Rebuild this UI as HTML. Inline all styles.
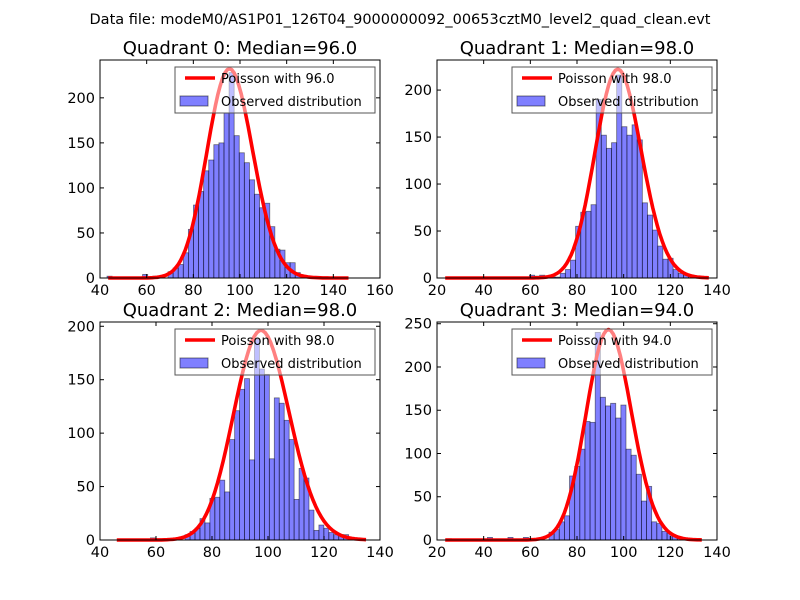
<!DOCTYPE html>
<html><head><meta charset="utf-8"><style>
body{margin:0;background:#fff;width:800px;height:600px;overflow:hidden}
svg{display:block;font-family:"DejaVu Sans","Liberation Sans",sans-serif}
</style></head><body>
<svg id="c" width="800" height="600" viewBox="0 0 800 600">
<text x="400" y="24" text-anchor="middle" font-size="14.5">Data file: modeM0/AS1P01_126T04_9000000092_00653cztM0_level2_quad_clean.evt</text>
</svg>
<script>
// Panel data (bin start, bin width, counts, Poisson lambda, curve peak, curve range)
const titles = ["Quadrant 0: Median=96.0","Quadrant 1: Median=98.0","Quadrant 2: Median=98.0","Quadrant 3: Median=94.0"];
const lambdas = [96, 98, 98, 94];
const curvePeaks = [232, 222, 196, 243];
const curveLo = [43.5, 23.5, 46, 23.5];
const curveHi = [146.5, 136.5, 135, 134];
const binStarts = [43.0, 59.6, 58.0, 24.0];
const binWidths = [2.18, 2.2, 1.77, 2.2];
const counts0 = [2,0,0,1,0,0,0,4,0,2,0,0,7,11,15,28,54,81,96,119,131,148,150,183,228,158,139,128,109,93,78,83,57,32,31,17,17,6];
const counts1 = [3,2,3,2,1,1,5,9,19,55,70,71,78,190,152,138,144,216,161,152,163,147,80,67,51,34,20,21,9,5,3,2,2];
const counts2 = [2,0,0,0,0,0,0,5,8,11,20,16,39,40,56,45,94,121,141,151,75,188,160,155,76,133,128,112,94,38,67,58,28,9,14,11,7,5,5,5];
const counts3 = [1.5,0,0,0,0,0,0,0,3,0,0,0,3,0,0,3,1.5,0,0,0,9,12,21,28,74,85,105,137,136,240,165,155,158,141,156,105,98,76,45,62,21,19,10,8,5,3];
const xMin = [40, 20, 40, 20];
const xMax = [160, 140, 140, 140];
const yMax = [242, 232, 204, 252];
const yTickStep = [50, 50, 50, 50];
const xTickStep = [20, 20, 20, 20];
const allCounts = [counts0, counts1, counts2, counts3];

const boxes = [{l:100,t:60,r:380,b:278},{l:437,t:60,r:717,b:278},{l:100,t:322,r:380,b:540},{l:437,t:322,r:717,b:540}];
const svg = document.getElementById('c');
const NS = 'http://www.w3.org/2000/svg';
function mk(tag, attrs, parent){const e=document.createElementNS(NS,tag);for(const k in attrs)e.setAttribute(k,attrs[k]);(parent||svg).appendChild(e);return e;}
function lgam(n){ if(n<1) return 0; return n*Math.log(n)-n+0.5*Math.log(2*Math.PI*n)+1/(12*n);}
function pois(k,l){return Math.exp(k*Math.log(l)-l-lgam(k));}

for(let p=0;p<4;p++){
  const bx=boxes[p];
  const g=mk('g',{});
  
  
  const X=v=>bx.l+(v-xMin[p])/(xMax[p]-xMin[p])*(bx.r-bx.l);
  const Y=v=>bx.b-v/yMax[p]*(bx.b-bx.t);
  const cs=allCounts[p];
  for(let i=0;i<cs.length;i++){
    if(cs[i]<=0) continue;
    const x0=X(binStarts[p]+i*binWidths[p]), x1=X(binStarts[p]+(i+1)*binWidths[p]);
    const r=mk('rect',{x:x0,y:Y(cs[i]),width:x1-x0,height:Y(0)-Y(cs[i]),fill:'rgba(0,0,255,0.5)',stroke:'rgba(0,0,0,0.5)','stroke-width':0.8},g);
    
    
  }
  const lam=lambdas[p], norm=pois(lam,lam);
  let d='';
  for(let k=curveLo[p];k<=curveHi[p]+0.01;k+=1){
    const v=curvePeaks[p]*pois(k,lam)/norm;
    d+=(d?'L':'M')+X(k).toFixed(1)+','+Y(v).toFixed(1);
  }
  const cv=mk('path',{d:d,fill:'none',stroke:'#ff0000','stroke-width':3.6,'stroke-linejoin':'round'},g);
  
  
  const fr=mk('rect',{x:bx.l,y:bx.t,width:bx.r-bx.l,height:bx.b-bx.t,fill:'none',stroke:'#000','stroke-width':1},g);
  
  
  for(let v=xMin[p];v<=xMax[p];v+=xTickStep[p]){
    const x=X(v);
    mk('line',{x1:x,y1:bx.b,x2:x,y2:bx.b-4,stroke:'#000'},g);
    mk('line',{x1:x,y1:bx.t,x2:x,y2:bx.t+4,stroke:'#000'},g);
    const t=mk('text',{x:x,y:bx.b+17,'text-anchor':'middle','font-size':14.5},g);
    t.textContent=v;
    
    
  }
  for(let v=0;v<=yMax[p];v+=yTickStep[p]){
    const y=Y(v);
    mk('line',{x1:bx.l,y1:y,x2:bx.l+4,y2:y,stroke:'#000'},g);
    mk('line',{x1:bx.r,y1:y,x2:bx.r-4,y2:y,stroke:'#000'},g);
    const t=mk('text',{x:bx.l-5,y:y+5,'text-anchor':'end','font-size':14.5},g);
    t.textContent=v;
    
    
  }
  const tt=mk('text',{x:(bx.l+bx.r)/2,y:bx.t-6,'text-anchor':'middle','font-size':18},g);
  tt.textContent=titles[p];
  
  
  const lg=mk('g',{},g);
  
  
  const lx=bx.r-205, ly=bx.t+7;
  mk('rect',{x:lx,y:ly,width:200,height:46,fill:'rgba(255,255,255,0.5)',stroke:'#555','stroke-width':1},lg);
  mk('line',{x1:lx+10,y1:ly+11,x2:lx+40,y2:ly+11,stroke:'#ff0000','stroke-width':3.6},lg);
  const t1=mk('text',{x:lx+46,y:ly+16,'font-size':13},lg);
  t1.textContent='Poisson with '+lambdas[p].toFixed(1);
  
  
  mk('rect',{x:lx+5,y:ly+29,width:28,height:10,fill:'rgba(0,0,255,0.5)',stroke:'rgba(0,0,0,0.5)'},lg);
  const t2=mk('text',{x:lx+46,y:ly+39,'font-size':13},lg);
  t2.textContent='Observed distribution';
  
  
}
</script>
</body></html>
